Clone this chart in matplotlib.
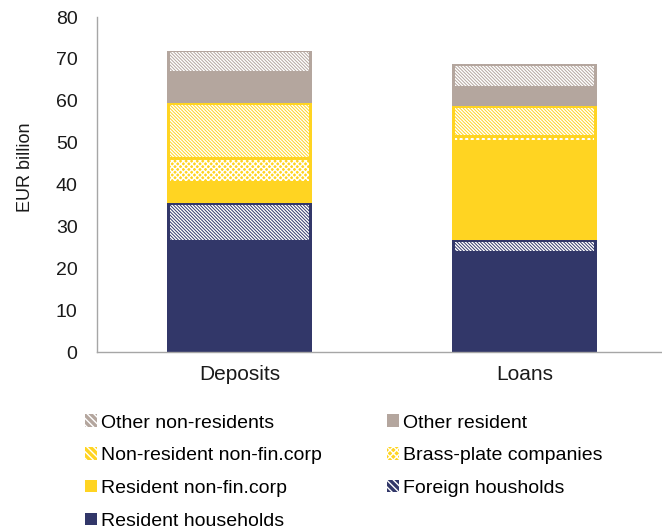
import numpy as np
import matplotlib.pyplot as plt
from matplotlib.patches import Patch

plt.rcParams['font.family'] = ['Liberation Sans', 'DejaVu Sans']
plt.rcParams['hatch.linewidth'] = 1.0

# Data (EUR billion)
categories = ['Deposits', 'Loans']
series = ['Resident households', 'Foreign housholds', 'Resident non-fin.corp',
          'Brass-plate companies', 'Non-resident non-fin.corp',
          'Other resident', 'Other non-residents']
resident_households = [26.5, 23.7]
foreign_households = [9.0, 3.0]
resident_nonfin = [5.0, 23.7]
brass_plate = [5.8, 1.0]
nonresident_nonfin = [13.1, 7.3]
other_resident = [7.4, 4.5]
other_nonresidents = [5.1, 5.5]

values = [resident_households, foreign_households, resident_nonfin, brass_plate,
          nonresident_nonfin, other_resident, other_nonresidents]

navy = '#323769'
yellow = '#FFD422'
taupe = '#B4A69E'
colors = [navy, navy, yellow, yellow, yellow, taupe, taupe]
stripes = '\\' * 10
hatches = [None, stripes, None, 'x' * 6, stripes, None, stripes]

fig = plt.figure(figsize=(6.62, 5.32), dpi=100)
ax = fig.add_axes([0.1465, 0.3383, 0.853, 0.6297])

x = np.arange(len(categories))
width = 0.507
inset_x, inset_y = 0.01, 0.35
bottom = np.zeros(len(categories))
handles = {}
for name, vals, c, h in zip(series, values, colors, hatches):
    vals = np.array(vals)
    ax.bar(x, vals, width, bottom=bottom, color=c, linewidth=0)
    if h is not None:
        # pattern fill, slightly inset so a solid border remains
        ax.bar(x, vals - 2 * inset_y, width - 2 * inset_x, bottom=bottom + inset_y,
               facecolor='none', edgecolor='white', hatch=h, linewidth=0)
        handles[name] = Patch(facecolor=c, edgecolor='white', hatch=h[:5], linewidth=0)
    else:
        handles[name] = Patch(facecolor=c, linewidth=0)
    bottom += vals

ax.set_xlim(-0.5, 1.48)
ax.set_ylim(0, 80)
ax.set_yticks(np.arange(0, 81, 10))
ax.set_xticks(x)
ax.set_xticklabels(categories)
ax.tick_params(axis='both', length=0, colors='#1a1a1a')
ax.tick_params(axis='y', labelsize=14, pad=14)
ax.tick_params(axis='x', labelsize=15, pad=9)
ax.set_ylabel('EUR billion', fontsize=13, color='#1a1a1a')
ax.yaxis.set_label_coords(-0.112, 0.552)
for s in ['top', 'right']:
    ax.spines[s].set_visible(False)
for s in ['left', 'bottom']:
    ax.spines[s].set_color('#a6a6a6')
    ax.spines[s].set_linewidth(1.0)

order = ['Other non-residents', 'Non-resident non-fin.corp', 'Resident non-fin.corp',
         'Resident households', 'Other resident', 'Brass-plate companies',
         'Foreign housholds']
fig.legend([handles[n] for n in order], order, loc='upper left',
           bbox_to_anchor=(0.128, 0.221), ncol=2, frameon=False, fontsize=14,
           handlelength=0.62, handleheight=0.62, handletextpad=0.2,
           labelspacing=0.8, columnspacing=3.35, borderaxespad=0, borderpad=0)

fig.savefig('out.png', dpi=100)
